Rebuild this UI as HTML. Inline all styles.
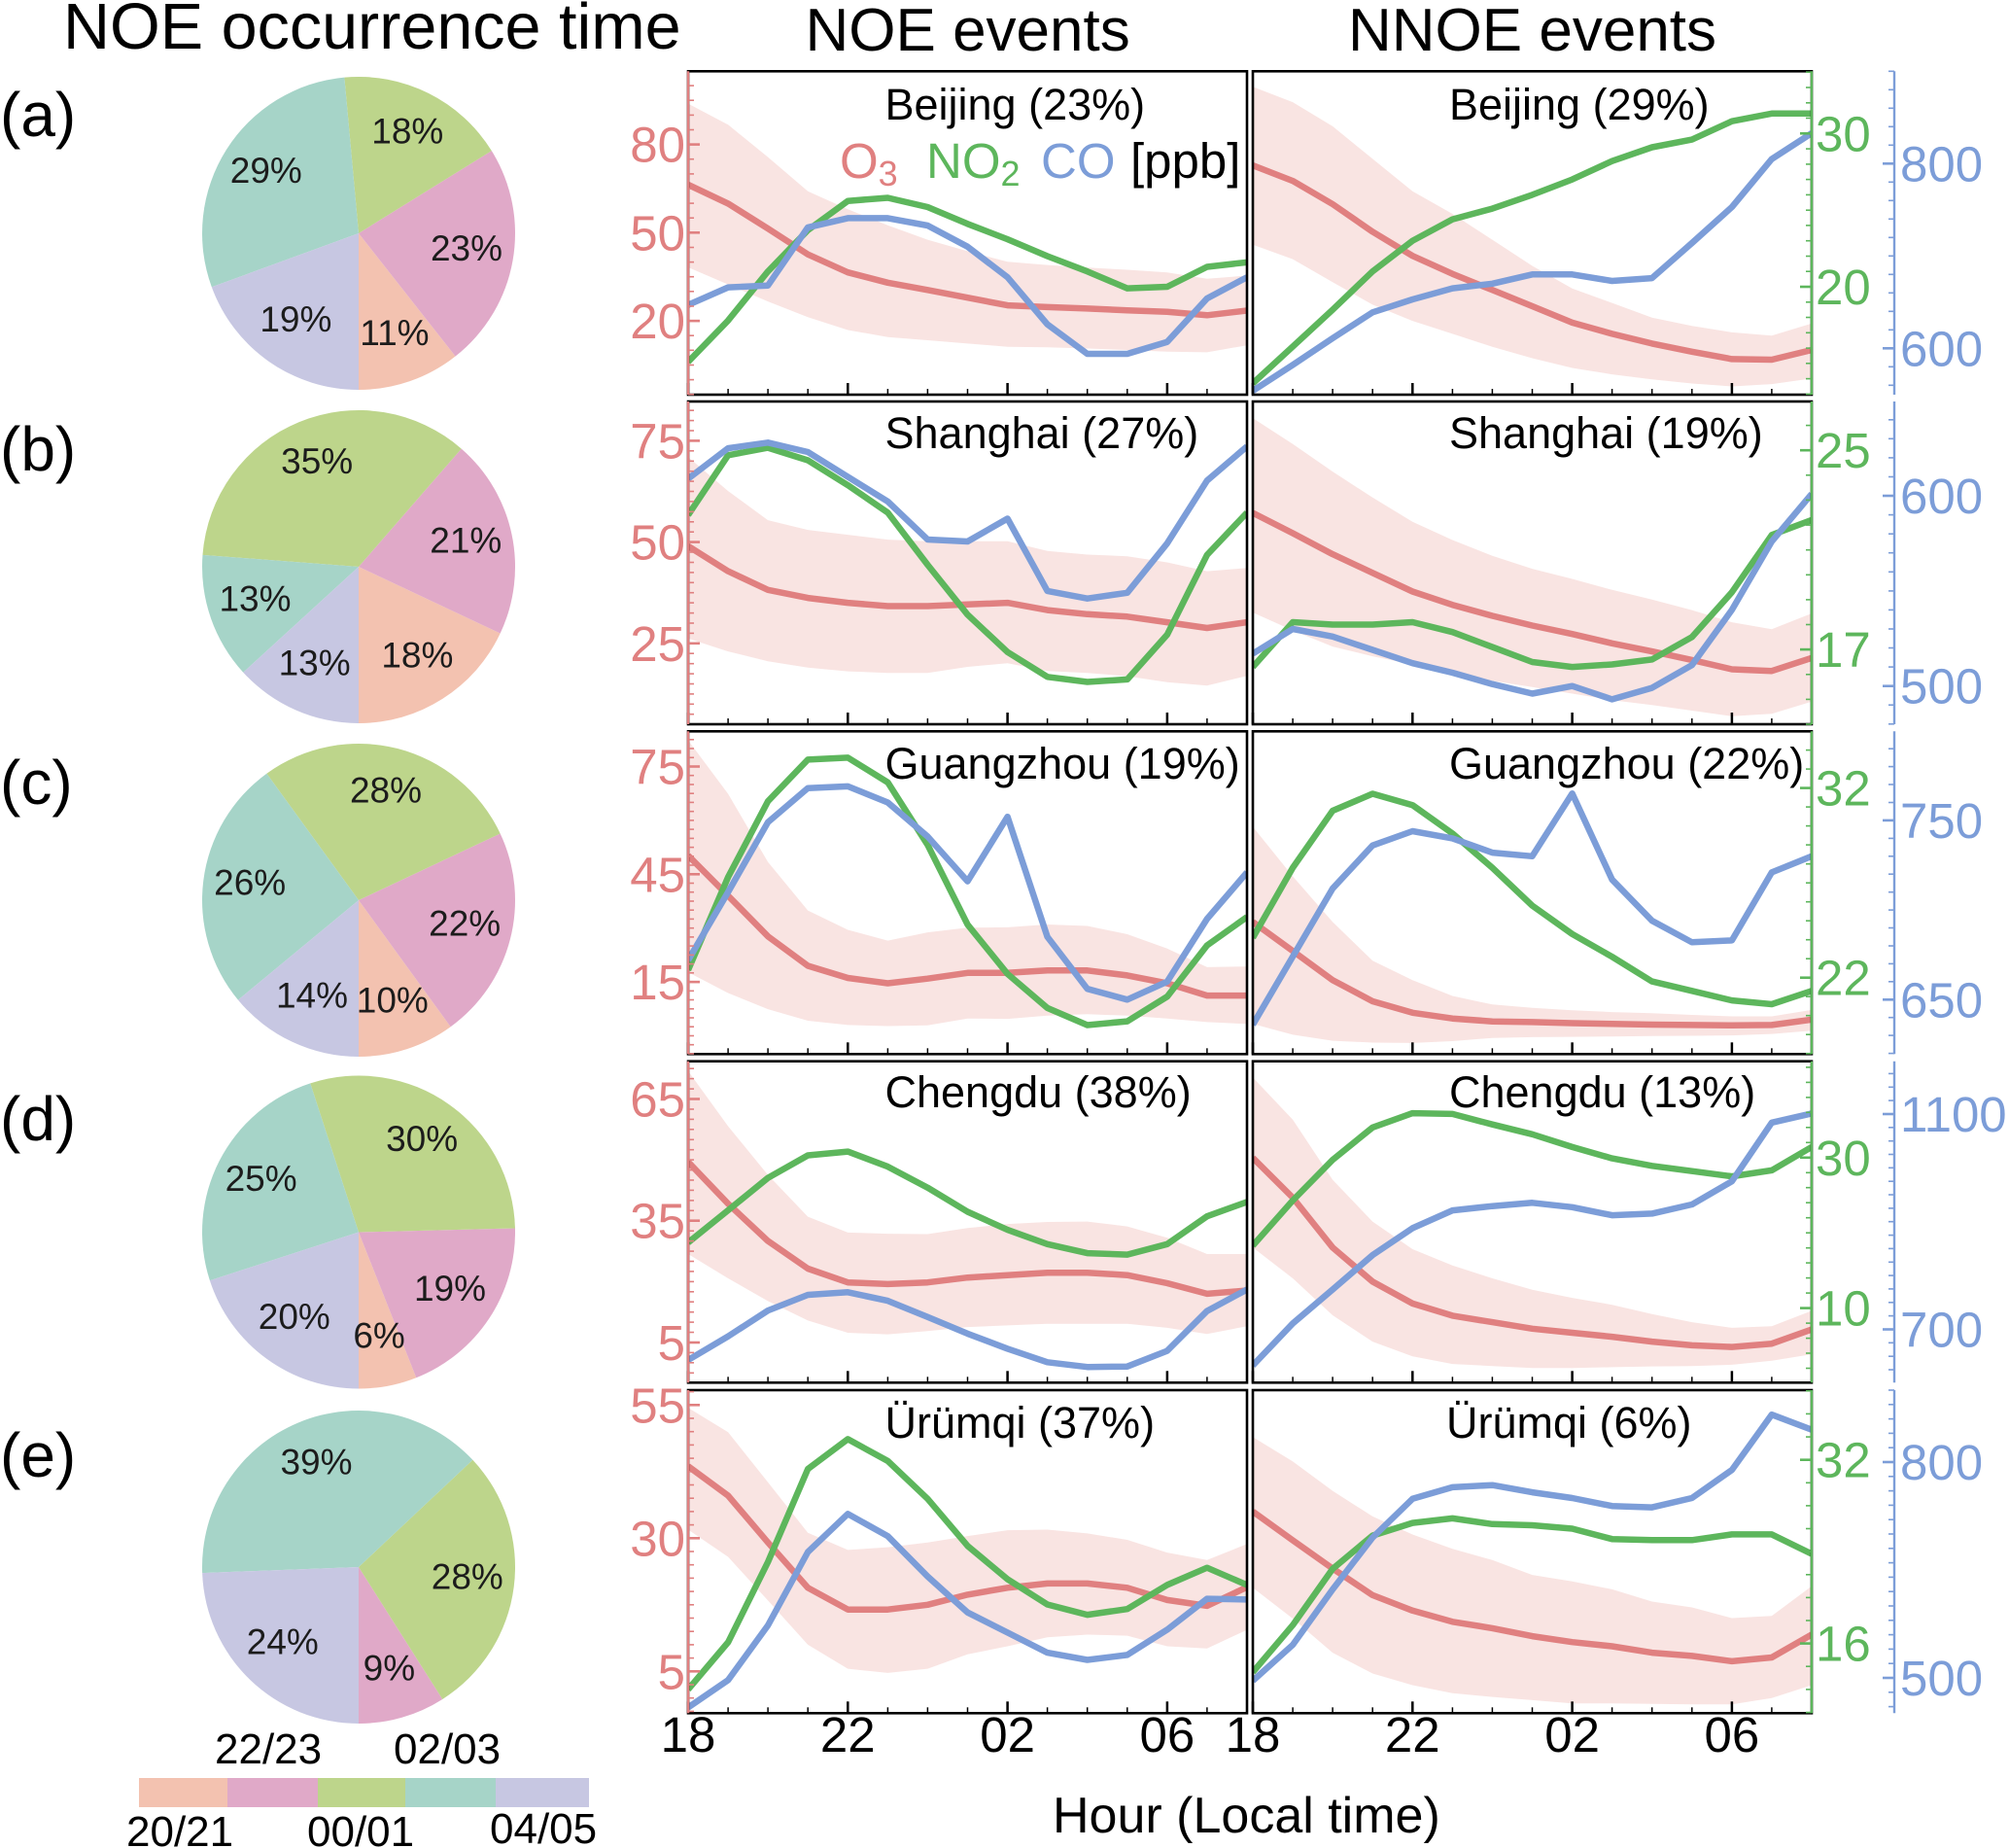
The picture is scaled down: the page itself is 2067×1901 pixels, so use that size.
<!DOCTYPE html>
<html>
<head>
<meta charset="utf-8">
<title>NOE occurrence time and diurnal pollutant profiles</title>
<style>
html,body{margin:0;padding:0;background:#fff;}
svg{display:block;font-family:"Liberation Sans",Arial,sans-serif;}
</style>
</head>
<body>
<svg id="chart" xmlns="http://www.w3.org/2000/svg" width="2067" height="1901" viewBox="0 0 2067 1901">
<rect width="2067" height="1901" fill="#fff"/>
<g id="pies"></g>
<g id="panels"></g>
<g id="axes"></g>
<g id="legend"></g>

<text x="65" y="50" font-size="66.5">NOE occurrence time</text>
<text x="828.5" y="52" font-size="62">NOE events</text>
<text x="1387" y="52" font-size="62">NNOE events</text>

<text x="0" y="140" font-size="64">(a)</text>
<text x="0" y="484" font-size="64">(b)</text>
<text x="0" y="827" font-size="64">(c)</text>
<text x="0" y="1173" font-size="64">(d)</text>
<text x="0" y="1519" font-size="64">(e)</text>

<g id="city-labels" font-size="45">
<text x="910.5" y="123">Beijing (23%)</text>
<text x="1491" y="123">Beijing (29%)</text>
<text x="910.5" y="461">Shanghai (27%)</text>
<text x="1491" y="461">Shanghai (19%)</text>
<text x="910.5" y="801">Guangzhou (19%)</text>
<text x="1491" y="801">Guangzhou (22%)</text>
<text x="910.5" y="1139">Chengdu (38%)</text>
<text x="1491" y="1139">Chengdu (13%)</text>
<text x="910.5" y="1479">Ürümqi (37%)</text>
<text x="1488" y="1479">Ürümqi (6%)</text>
</g>

<g id="species-legend" font-size="51">
<text x="864" y="183" fill="#E08080">O<tspan font-size="36" dy="8">3</tspan></text>
<text x="953" y="183" fill="#5DB65C">NO<tspan font-size="36" dy="8">2</tspan></text>
<text x="1071" y="183" fill="#7C9DD8">CO</text>
<text x="1163" y="183" fill="#000">[ppb]</text>
</g>

<text x="1083" y="1885" font-size="52">Hour (Local time)</text>

<g font-size="44">
<text x="221" y="1814">22/23</text>
<text x="405" y="1814">02/03</text>
<text x="130" y="1899">20/21</text>
<text x="316" y="1899">00/01</text>
<text x="504" y="1896">04/05</text>
</g>
</svg>

<script>
// ---------- DATA ----------
const hours = [18,19,20,21,22,23,0,1,2,3,4,5,6,7,8];
const hourTickLabels = ['18','22','02','06'];
const hourTickIndex = [0,4,8,12];
const cities = ['beijing','shanghai','guangzhou','chengdu','urumqi'];
const seasons = ['20-21','22-23','00-01','02-03','04-05'];
const seasonColors = ['#F3C2B0','#E0A9C8','#BDD58B','#A6D4C8','#C7C7E2'];

const pieShares = [
  [10.6,23.2,17.6,29.1,19.4],
  [18,20.6,35.2,13,13.2],
  [10,22,28,26,14],
  [6,19.4,29.6,25,20],
  [0,9,28,38.6,24.4]
];

// axis domains [bottom, top] in ppb
const o3Domain = [[-5.1,104.9],[5.04,84.7],[-5.1,84.8],[-4.9,74.3],[-2.85,57.8]];
const no2Domain = [[12.96,34.06],[14.0,26.96],[17.97,34.99],[0.09,42.8],[9.93,38.07]];
const coDomain = [[549.8,900],[479.9,649.6],[619.6,799.7],[601,1198],[451,900]];

const o3TickLabels = [[20,50,80],[25,50,75],[15,45,75],[5,35,65],[5,30,55]];
const no2TickLabels = [[20,30],[17,25],[22,32],[10,30],[16,32]];
const coTickLabels = [[600,800],[500,600],[650,750],[700,1100],[500,800]];
const o3MinorStep = [5,2.5,2.5,2.5,2.5];
const no2MinorStep = [1,1,1,2,2];
const coMinorStep = [20,10,10,25,20];

// NOE events
const noeO3 = [
  [66.3,59.9,51.4,42.6,36.5,33,30.5,27.9,25.3,24.7,24.2,23.6,23.1,21.9,23.5],
  [49,42.8,38.2,36.2,35,34.2,34.2,34.6,35,33.2,32.2,31.6,30.2,28.8,30.2],
  [50.2,39,27.7,19.5,16.1,14.6,15.9,17.5,17.5,18.2,18.2,16.8,14.6,11.2,11.2],
  [49.5,39.2,30,23.2,19.8,19.4,19.8,21,21.6,22.2,22.2,21.6,19.6,17,17.8],
  [43.5,38,29.2,20.7,16.6,16.6,17.5,19.4,20.7,21.5,21.5,20.7,18.4,17.3,20.8]
];
const noeO3Upper = [
  [93.9,86.7,75.7,64.1,58,52.5,47.6,43.7,40.1,39,38.1,37.4,36.5,34.3,35.4],
  [71,62.6,55.4,53,51.8,50.6,50.2,50.2,50.2,47.8,46.9,46.5,45,42.8,43.6],
  [82.3,67.4,48.4,34.9,29.5,26.5,28.8,30.1,30.2,31,30.6,28.3,24.3,19.1,19.3],
  [71.9,58.3,46.3,36,32.1,31.8,31.7,33.2,34.2,34.7,34.8,33.6,30.8,26.8,26.8],
  [54.5,49.9,40.5,31,27.8,28.3,29.2,30.4,31.5,31.6,30.9,29.7,27.3,25.9,28.9]
];
const noeO3Lower = [
  [38.2,32.4,26.6,21.3,16.9,14.5,13.4,12.3,11.2,11,10.6,10.1,9.5,9.3,11.7],
  [26.2,23,20.6,19,18.1,17.7,17.7,19.2,20.1,18.2,17.7,16.9,15.4,14.6,17],
  [17.7,11.9,7.4,4.2,3,2.7,2.9,4.8,4.7,5.6,6,5.6,4.8,3.8,3.3],
  [26.8,20.8,15.2,10.4,7.4,7,7.8,8.8,9.2,9.6,9.6,9.6,8.6,7.1,9],
  [31.6,26.5,18.3,10,5.5,4.7,5.5,8.2,9.7,11.4,11.9,11.7,9.7,9.3,12.8]
];
const noeNO2 = [
  [15.1,17.8,21,23.7,25.6,25.8,25.2,24.1,23.1,22,21,19.9,20,21.3,21.6],
  [22.4,24.8,25.1,24.6,23.6,22.5,20.4,18.4,16.9,15.9,15.7,15.8,17.6,20.8,22.5],
  [22.4,27.3,31.3,33.5,33.6,32.3,29,24.8,22.2,20.4,19.5,19.7,21,23.7,25.2],
  [18.7,23,27.3,30.3,30.8,28.8,26,22.8,20.4,18.5,17.3,17.1,18.5,22.2,24.1],
  [12,16.1,23.1,31.2,33.8,31.9,28.6,24.5,21.6,19.4,18.5,19,21.1,22.6,21.1]
];
const noeCO = [
  [647,666,668,731,741,741,733,710,677,626,594,594,607,654,677],
  [609,625,628,623,610,597,577,576,588,550,546,549,575,608,626],
  [672,710,749,768,769,760,741,716,752,685,656,650,660,695,721],
  [643,687,735,764,769,753,723,692,664,639,630,631,660,734,774],
  [459,497,573,675,728,697,641,591,563,535,525,532,567,610,609]
];

// NNOE events
const nnoeO3 = [
  [72.9,67.6,59.7,50.3,42.1,36,30.5,25,19.4,15.6,12.3,9.5,7,6.8,10.1],
  [57.2,52.2,47,42.4,37.8,34.5,31.8,29.4,27.3,25,23,20.9,18.6,18.2,21.4],
  [31.7,23.6,15.5,9.6,6.4,4.8,4,3.8,3.5,3.3,3.1,3,2.9,3,4.5],
  [50.5,40.7,28.4,20,14.6,11.6,10,8.4,7.4,6.4,5.2,4.3,3.9,4.7,8.2],
  [35,29.6,24.3,19.3,16.4,14.3,13.1,11.6,10.5,9.7,8.5,7.9,6.9,7.6,11.9]
];
const nnoeO3Upper = [
  [99.6,94.4,86.2,75.1,64.1,56.4,47.6,38.7,31,26.1,21.1,18.3,16.1,15,19.1],
  [80.6,74.2,67.4,61,55,50.5,46.6,43.4,40.9,38.2,35.8,33.2,30.2,28.5,32.4],
  [58.2,44.4,31.7,20.9,15.5,11.1,8.7,7.8,7.1,6.6,6.3,5.8,5.4,5.4,7.2],
  [70.3,59.9,45.1,34.8,28,24,20.8,18,16,14.3,12,10,8.6,9,12.8],
  [49,44.4,38.9,34.1,30.7,28,25.9,23.1,21.9,20.4,18.1,17,15,15.4,21]
];
const nnoeO3Lower = [
  [45.9,41,33.2,25.5,20,15.6,11.2,7.3,4,1.8,0.1,-1.3,-2.3,-1.5,0.4],
  [32.6,28.2,24.2,21.8,19.8,17.2,15.8,14.2,12.6,11,9.8,8.4,7,7.6,10.6],
  [3.3,0.3,-1.4,-1.9,-2,-1.5,-0.6,-0.4,-0.3,-0.2,-0.1,0,0.1,0.5,1.4],
  [28.4,20.8,11.7,5.2,1.6,-0.3,-0.8,-1.3,-1.3,-1.1,-0.9,-0.8,-0.5,0.5,2.1],
  [20.7,14.9,8.5,4.6,2.4,0.9,0.2,-0.4,-1,-1,-1.1,-1.2,-1.2,0,2.4]
];
const nnoeNO2 = [
  [13.7,16.1,18.5,21,23,24.4,25.1,26,27,28.2,29.1,29.6,30.8,31.3,31.3],
  [16.3,18.1,18,18,18.1,17.7,17.1,16.5,16.3,16.4,16.6,17.5,19.3,21.6,22.2],
  [24.1,27.8,30.8,31.7,31.1,29.6,27.8,25.8,24.3,23.1,21.8,21.3,20.8,20.6,21.3],
  [18.3,24.3,29.7,34,35.9,35.8,34.4,33.1,31.4,29.9,28.9,28.2,27.5,28.3,31.4],
  [13.5,17.6,22.5,25.4,26.5,26.9,26.4,26.3,26,25.1,25,25,25.5,25.5,23.8]
];
const nnoeCO = [
  [554,582,611,639,653,665,670,680,680,673,676,714,753,805,833],
  [517,530,526,519,512,507,501,496,500,493,499,511,540,576,601],
  [636,674,712,736,744,740,732,730,765,717,694,682,683,721,730],
  [633,711,774,838,888,921,929,935,927,912,915,932,975,1084,1101],
  [496,546,623,695,749,765,768,758,750,739,737,750,789,866,845]
];

// ---------- LAYOUT ----------
const NS = 'http://www.w3.org/2000/svg';
const RED = '#E08080', GREEN = '#5DB65C', BLUE = '#7C9DD8', BAND = '#F9E4E2';
const rowTop = [73.3,413,752.3,1091.7,1430];
const rowBottom = [406,745,1084.3,1422.3,1762.3];
const pieCY = [240,583,926,1267.5,1612];
const pieCX = 369, pieR = 161;
const colLeft = [708,1289], colRight = [1283,1864];
const coAxisX = 1949;
const LINE_W = 6.5;

function mk(tag, attrs, parent, text) {
  const el = document.createElementNS(NS, tag);
  for (const k in attrs) el.setAttribute(k, attrs[k]);
  if (text !== undefined) el.textContent = text;
  parent.appendChild(el);
  return el;
}
function xScale(col, i) {
  return colLeft[col] + (colRight[col] - colLeft[col]) * i / (hours.length - 1);
}
function yScale(row, dom, v) {
  return rowBottom[row] - (v - dom[0]) / (dom[1] - dom[0]) * (rowBottom[row] - rowTop[row]);
}
function linePath(col, row, dom, vals) {
  return vals.map((v, i) => (i ? 'L' : 'M') + xScale(col, i).toFixed(1) + ' ' + yScale(row, dom, v).toFixed(1)).join('');
}
function bandPath(col, row, dom, up, lo) {
  const a = up.map((v, i) => (i ? 'L' : 'M') + xScale(col, i).toFixed(1) + ' ' + yScale(row, dom, v).toFixed(1)).join('');
  let b = '';
  for (let i = lo.length - 1; i >= 0; i--) b += 'L' + xScale(col, i).toFixed(1) + ' ' + yScale(row, dom, lo[i]).toFixed(1);
  return a + b + 'Z';
}

// ---------- PIES ----------
const pies = document.getElementById('pies');
pieShares.forEach((shares, r) => {
  const g = mk('g', {}, pies);
  
  
  const total = shares.reduce((a, b) => a + b, 0);
  let cum = 0;
  shares.forEach((s, k) => {
    if (s > 0) {
      const a0 = cum / total * 2 * Math.PI, a1 = (cum + s) / total * 2 * Math.PI;
      const d = 'M' + pieCX + ' ' + pieCY[r] +
        'L' + (pieCX + pieR * Math.sin(a0)).toFixed(2) + ' ' + (pieCY[r] + pieR * Math.cos(a0)).toFixed(2) +
        'A' + pieR + ' ' + pieR + ' 0 ' + (s / total > 0.5 ? 1 : 0) + ' 0 ' +
        (pieCX + pieR * Math.sin(a1)).toFixed(2) + ' ' + (pieCY[r] + pieR * Math.cos(a1)).toFixed(2) + 'Z';
      const slice = mk('path', {d: d, fill: seasonColors[k]}, g);
      
      
    }
    cum += s;
  });
  cum = 0;
  shares.forEach((s, k) => {
    if (s > 0) {
      const m = (cum + s / 2) / total * 2 * Math.PI;
      const t = mk('text', {
        x: (pieCX + 0.7 * pieR * Math.sin(m)).toFixed(1),
        y: (pieCY[r] + 0.7 * pieR * Math.cos(m) + 8.5).toFixed(1),
        'font-size': 37, 'text-anchor': 'middle', fill: '#1c1c1c'
      }, g, Math.round(s) + '%');
      
      
    }
    cum += s;
  });
});

// ---------- COLORBAR ----------
const legendG = document.getElementById('legend');
const barEdges = [143,234,327,417,510,606];
seasonColors.forEach((c, k) => {
  const seg = mk('rect', {x: barEdges[k], y: 1829, width: barEdges[k + 1] - barEdges[k], height: 30, fill: c}, legendG);
  
  
});

// ---------- PANELS ----------
const panels = document.getElementById('panels');
const columns = [
  {key: 'noe', o3: noeO3, up: noeO3Upper, lo: noeO3Lower, no2: noeNO2, co: noeCO},
  {key: 'nnoe', o3: nnoeO3, up: nnoeO3Upper, lo: nnoeO3Lower, no2: nnoeNO2, co: nnoeCO}
];
const defs = mk('defs', {}, panels);
columns.forEach((col, c) => {
  cities.forEach((city, r) => {
    const id = 'clip-' + col.key + '-' + r;
    const cp = mk('clipPath', {id: id}, defs);
    mk('rect', {x: colLeft[c], y: rowTop[r], width: colRight[c] - colLeft[c], height: rowBottom[r] - rowTop[r]}, cp);

    const g = mk('g', {}, panels);
    
    

    const plot = mk('g', {'clip-path': 'url(#' + id + ')'}, g);
    const band = mk('path', {d: bandPath(c, r, o3Domain[r], col.up[r], col.lo[r]), fill: BAND}, plot);
    
    

    const o3 = mk('path', {d: linePath(c, r, o3Domain[r], col.o3[r]), fill: 'none', stroke: RED, 'stroke-width': LINE_W, 'stroke-linejoin': 'round'}, plot);
    
    

    const no2 = mk('path', {d: linePath(c, r, no2Domain[r], col.no2[r]), fill: 'none', stroke: GREEN, 'stroke-width': LINE_W, 'stroke-linejoin': 'round'}, plot);
    
    

    const co = mk('path', {d: linePath(c, r, coDomain[r], col.co[r]), fill: 'none', stroke: BLUE, 'stroke-width': LINE_W, 'stroke-linejoin': 'round'}, plot);
    
    

    // x ticks
    hours.forEach((h, i) => {
      const major = hourTickIndex.includes(i);
      const tick = mk('line', {
        x1: xScale(c, i).toFixed(1), x2: xScale(c, i).toFixed(1),
        y1: rowBottom[r], y2: rowBottom[r] - (major ? 12 : 6),
        stroke: '#000', 'stroke-width': major ? 2.5 : 1.5
      }, g);
      
      
    });

    // frame
    const frame = mk('rect', {
      x: colLeft[c], y: rowTop[r], width: colRight[c] - colLeft[c], height: rowBottom[r] - rowTop[r],
      fill: 'none', stroke: '#000', 'stroke-width': 2.6
    }, g);
    
    
  });
});

// ---------- Y AXES ----------
const axes = document.getElementById('axes');
function drawAxis(r, dom, labels, step, axisX, dir, color, name, labelX, anchor) {
  const g = mk('g', {}, axes);
  
  
  const spine = mk('line', {x1: axisX, x2: axisX, y1: rowTop[r], y2: rowBottom[r], stroke: color, 'stroke-width': 2.4}, g);
  
  
  const base = labels[0];
  for (let k = Math.ceil((dom[0] - base) / step); base + k * step <= dom[1]; k++) {
    const v = base + k * step;
    const major = labels.some(l => Math.abs(l - v) < 1e-6);
    const y = yScale(r, dom, v).toFixed(1);
    const tick = mk('line', {x1: axisX, x2: axisX + dir * (major ? 12 : 6), y1: y, y2: y, stroke: color, 'stroke-width': major ? 2.6 : 1.6}, g);
    
    
  }
  labels.forEach(l => {
    const t = mk('text', {x: labelX, y: (yScale(r, dom, l) + 18).toFixed(1), 'font-size': 51, fill: color, 'text-anchor': anchor}, g, String(l));
    
    
  });
}
cities.forEach((city, r) => {
  drawAxis(r, o3Domain[r], o3TickLabels[r], o3MinorStep[r], colLeft[0], 1, RED, 'o3', 705, 'end');
  drawAxis(r, no2Domain[r], no2TickLabels[r], no2MinorStep[r], colRight[1], -1, GREEN, 'no2', 1868, 'start');
  drawAxis(r, coDomain[r], coTickLabels[r], coMinorStep[r], coAxisX, -1, BLUE, 'co', 1955, 'start');
});

// ---------- X TICK LABELS ----------
columns.forEach((col, c) => {
  hourTickLabels.forEach((lab, k) => {
    const t = mk('text', {
      x: xScale(c, hourTickIndex[k]).toFixed(1), y: 1802, 'font-size': 51, 'text-anchor': 'middle', fill: '#000'
    }, axes, lab);
    
    
  });
});
</script>
</body>
</html>
